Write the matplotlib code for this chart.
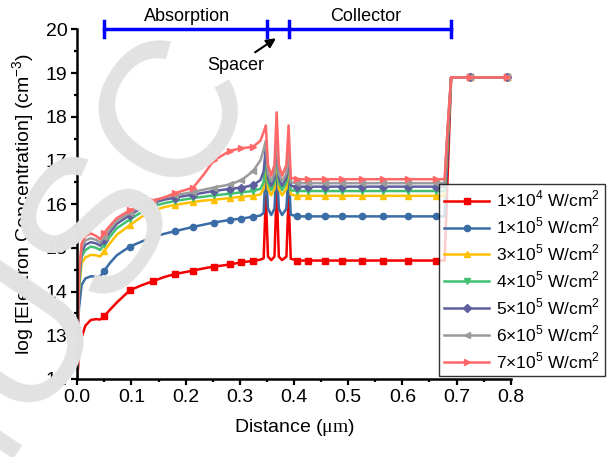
import matplotlib
matplotlib.use('Agg')
import matplotlib.pyplot as plt
from matplotlib.ticker import MultipleLocator

plt.rcParams['font.family'] = ['Liberation Sans', 'DejaVu Sans']
plt.rcParams['mathtext.fontset'] = 'custom'
plt.rcParams['mathtext.rm'] = 'Liberation Sans'
plt.rcParams['mathtext.sf'] = 'Liberation Serif'

# distance (um), shared by all curves
x = [0, 0.003, 0.008, 0.015, 0.025, 0.035, 0.042, 0.05, 0.06, 0.073,
     0.097, 0.12, 0.14, 0.16, 0.18, 0.214, 0.233, 0.252, 0.282, 0.303,
     0.324, 0.338, 0.344, 0.348, 0.352, 0.358, 0.364, 0.368, 0.372, 0.378,
     0.386, 0.390, 0.394, 0.406, 0.426, 0.457, 0.488, 0.525, 0.565, 0.611,
     0.663, 0.678, 0.684, 0.690, 0.725, 0.793]

# log10 electron concentration for each optical intensity
n_1e4 = [12.0, 12.55, 12.95, 13.22, 13.35, 13.37, 13.36, 13.44, 13.58, 13.75,
         14.03, 14.15, 14.24, 14.33, 14.40, 14.48, 14.53, 14.57, 14.62, 14.67,
         14.70, 14.73, 14.76, 16.2, 14.8, 14.72, 14.8, 16.4, 14.8, 14.72,
         14.8, 16.2, 14.75, 14.71, 14.71, 14.71, 14.71, 14.71, 14.71, 14.71,
         14.71, 14.71, 16.8, 18.9, 18.9, 18.9]
n_1e5 = [12.0, 13.6, 14.15, 14.3, 14.35, 14.34, 14.34, 14.48, 14.65, 14.83,
         15.03, 15.15, 15.25, 15.32, 15.38, 15.48, 15.53, 15.58, 15.64, 15.67,
         15.71, 15.74, 15.8, 16.9, 15.9, 15.75, 15.9, 17.0, 15.9, 15.75,
         15.9, 16.8, 15.76, 15.72, 15.72, 15.72, 15.72, 15.72, 15.72, 15.72,
         15.72, 15.72, 17.3, 18.9, 18.9, 18.9]
n_3e5 = [12.0, 14.0, 14.65, 14.78, 14.84, 14.83, 14.80, 14.93, 15.1, 15.3,
         15.52, 15.72, 15.85, 15.93, 15.98, 16.05, 16.08, 16.1, 16.14, 16.17,
         16.19, 16.22, 16.35, 17.1, 16.35, 16.2, 16.35, 17.3, 16.35, 16.2,
         16.35, 17.0, 16.22, 16.19, 16.19, 16.19, 16.19, 16.19, 16.19, 16.19,
         16.19, 16.19, 17.6, 18.9, 18.9, 18.9]
n_4e5 = [12.0, 14.1, 14.8, 14.95, 15.03, 15.0, 14.95, 15.08, 15.25, 15.45,
         15.65, 15.83, 15.95, 16.02, 16.07, 16.14, 16.17, 16.2, 16.24, 16.27,
         16.3, 16.35, 16.5, 17.2, 16.5, 16.32, 16.5, 17.4, 16.5, 16.32,
         16.5, 17.1, 16.32, 16.3, 16.3, 16.3, 16.3, 16.3, 16.3, 16.3,
         16.3, 16.3, 17.7, 18.9, 18.9, 18.9]
n_5e5 = [12.0, 14.2, 14.9, 15.07, 15.13, 15.1, 15.05, 15.18, 15.35, 15.55,
         15.75, 15.92, 16.03, 16.1, 16.15, 16.22, 16.26, 16.3, 16.35, 16.38,
         16.43, 16.55, 16.75, 17.3, 16.6, 16.42, 16.6, 17.5, 16.6, 16.42,
         16.6, 17.2, 16.42, 16.4, 16.4, 16.4, 16.4, 16.4, 16.4, 16.4,
         16.4, 16.4, 17.75, 18.9, 18.9, 18.9]
n_6e5 = [12.0, 14.3, 15.0, 15.17, 15.22, 15.18, 15.12, 15.25, 15.42, 15.62,
         15.8, 15.97, 16.08, 16.15, 16.2, 16.28, 16.33, 16.38, 16.45, 16.55,
         16.75, 17.0, 17.25, 17.45, 16.7, 16.52, 16.7, 17.6, 16.7, 16.52,
         16.7, 17.3, 16.5, 16.48, 16.48, 16.48, 16.48, 16.48, 16.48, 16.48,
         16.48, 16.48, 17.8, 18.9, 18.9, 18.9]
n_7e5 = [12.0, 14.4, 15.1, 15.27, 15.33, 15.27, 15.2, 15.35, 15.5, 15.68,
         15.86, 16.0, 16.08, 16.15, 16.25, 16.38, 16.67, 17.0, 17.22, 17.28,
         17.31, 17.45, 17.65, 17.8, 16.9, 16.65, 16.9, 18.1, 16.9, 16.65,
         16.9, 17.8, 16.6, 16.57, 16.57, 16.57, 16.57, 16.57, 16.57, 16.57,
         16.57, 16.57, 17.85, 18.9, 18.9, 18.9]

series = [n_1e4, n_1e5, n_3e5, n_4e5, n_5e5, n_6e5, n_7e5]
labels = [r'1$\times$10$^4$ W/cm$^2$', r'1$\times$10$^5$ W/cm$^2$',
          r'3$\times$10$^5$ W/cm$^2$', r'4$\times$10$^5$ W/cm$^2$',
          r'5$\times$10$^5$ W/cm$^2$', r'6$\times$10$^5$ W/cm$^2$',
          r'7$\times$10$^5$ W/cm$^2$']
colors = ['#f50000', '#3a6ca6', '#ffc000', '#40c070', '#5f5f9f', '#9b9b9b', '#ff6868']
markers = ['s', 'o', '^', 'v', 'D', '<', '>']
mark_idx = [7, 10, 12, 14, 15, 17, 18, 19, 20, 33, 34, 35, 36, 37, 38, 39, 40, 44, 45]

# device regions along the top
region_edges = [0.05, 0.35, 0.39, 0.69]
region_names = ['Absorption', 'Collector']
region_label_x = [0.202, 0.533]

fig = plt.figure(figsize=(6.07, 4.57), dpi=100)
ax = fig.add_axes([0.1273, 0.1707, 0.7141, 0.7652])

for y, lab, c, m in zip(series, labels, colors, markers):
    ax.plot(x, y, color=c, lw=1.8, marker=m, ms=4.5, markevery=mark_idx, label=lab)

ax.set_xlim(0, 0.8)
ax.set_ylim(12, 20)
ax.xaxis.set_major_locator(MultipleLocator(0.1))
ax.xaxis.set_minor_locator(MultipleLocator(0.05))
ax.yaxis.set_major_locator(MultipleLocator(1))
ax.yaxis.set_minor_locator(MultipleLocator(0.5))
ax.spines['top'].set_visible(False)
ax.spines['right'].set_visible(False)
for s in ['left', 'bottom']:
    ax.spines[s].set_linewidth(1.8)
ax.tick_params(which='major', direction='out', length=4, width=1.6, labelsize=14, pad=3)
ax.tick_params(which='minor', direction='out', length=2.5, width=1.6)
ax.set_xlabel(r'Distance ($\mathsf{\mu m}$)', fontsize=14, labelpad=8)
ax.set_ylabel(r'log [Electron Concentration] (cm$^{-3}$)', fontsize=14, labelpad=6)

# region bar
ax.plot([region_edges[0], region_edges[-1]], [20, 20], color='#0000ff', lw=2.5, clip_on=False, zorder=5)
for e in region_edges:
    ax.plot([e, e], [19.82, 20.18], color='#0000ff', lw=2.5, clip_on=False, zorder=5)
for name, lx in zip(region_names, region_label_x):
    ax.text(lx, 20.3, name, fontsize=13, ha='center', va='center', clip_on=False)
ax.annotate('Spacer', xy=(0.371, 19.83), xytext=(0.293, 19.18), fontsize=13,
            ha='center', va='center',
            arrowprops=dict(arrowstyle='-|>', color='black', lw=1.5, mutation_scale=14))

leg = ax.legend(loc='lower left', bbox_to_anchor=(0.723, 0.177), bbox_transform=fig.transFigure,
                fontsize=12.5, frameon=True, fancybox=False, edgecolor='black',
                handlelength=2.6, handletextpad=0.4, labelspacing=0.36, borderpad=0.3,
                borderaxespad=0)
leg.get_frame().set_linewidth(1.0)

# watermark
fig.text(0.086, 0.372, 'MUSC', fontsize=140, rotation=56, color='#e2e2e2',
         ha='center', va='center', zorder=10)

fig.savefig('out.png', dpi=100)
